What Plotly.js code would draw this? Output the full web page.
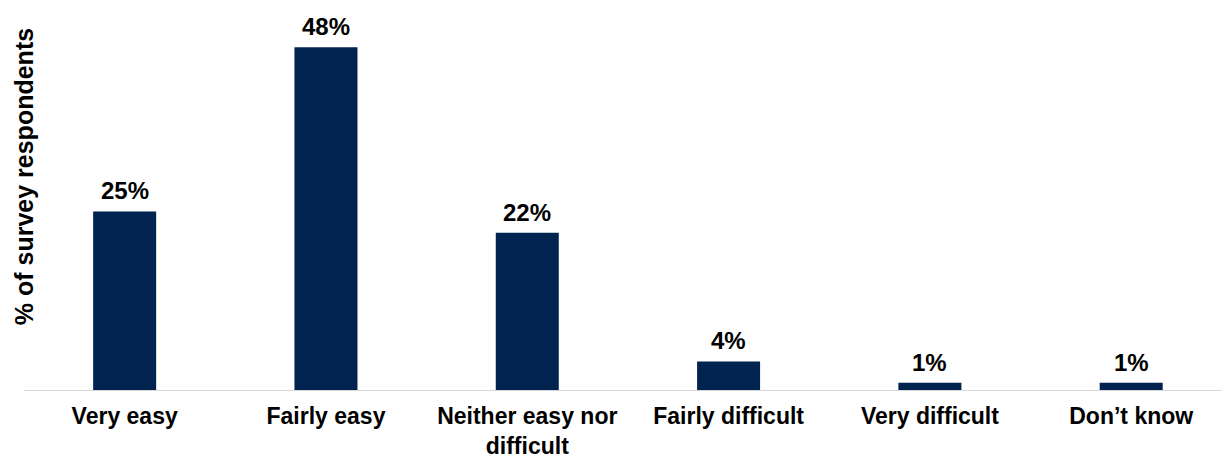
<!DOCTYPE html>
<html>
<head>
<meta charset="utf-8">
<script src="https://cdn.plot.ly/plotly-3.0.1.min.js"></script>
<style>
  html, body { margin: 0; padding: 0; background: #ffffff; }
  #chart { width: 1222px; height: 459px; }
</style>
</head>
<body>
<div id="chart"></div>
<script>
// Ease of the process, share of survey respondents
const categories = ["Very easy", "Fairly easy", "Neither easy nor<br>difficult", "Fairly difficult", "Very difficult", "Don\u2019t know"];
const shares = [25, 48, 22, 4, 1, 1];
const shareLabels = ["25%", "48%", "22%", "4%", "1%", "1%"];
const yAxisTitle = "% of survey respondents";

const FONT = "Liberation Sans, Arial, sans-serif";
const NAVY = "#00234F";

const bars = {
  type: "bar",
  x: categories,
  y: shares,
  width: 0.313,
  marker: { color: NAVY, line: { width: 0 } },
  hoverinfo: "skip"
};

// value labels sit just above each bar
const valueNotes = categories.map((c, i) => ({
  x: c,
  y: shares[i],
  xref: "x", yref: "y",
  text: "<b>" + shareLabels[i] + "</b>",
  showarrow: false,
  xanchor: "center", yanchor: "bottom",
  yshift: 5,
  font: { family: FONT, size: 24, color: "#000000" }
}));

const layout = {
  width: 1222,
  height: 459,
  margin: { l: 23.5, r: 0, t: 0, b: 69, pad: 0 },
  paper_bgcolor: "#ffffff",
  plot_bgcolor: "#ffffff",
  showlegend: false,
  font: { family: FONT, color: "#000000" },
  xaxis: {
    type: "category",
    range: [-0.5, 5.451],
    showline: true,
    linecolor: "#d9d9d9",
    linewidth: 1,
    showgrid: false,
    zeroline: false,
    ticks: "",
    ticklabelstandoff: 5,
    tickfont: { family: FONT, size: 23, color: "#000000", weight: "bold" },
    fixedrange: true
  },
  yaxis: {
    range: [0, 54.6],
    showline: false,
    showgrid: false,
    zeroline: false,
    showticklabels: false,
    ticks: "",
    fixedrange: true
  },
  annotations: [{
    text: "<b>" + yAxisTitle + "</b>",
    xref: "paper", yref: "paper",
    x: -0.0004, y: 0.547,
    xanchor: "center", yanchor: "middle",
    textangle: -90,
    showarrow: false,
    font: { family: FONT, size: 25, color: "#000000" }
  }].concat(valueNotes)
};

Plotly.newPlot("chart", [bars], layout, { displayModeBar: false, staticPlot: true });
</script>
</body>
</html>
